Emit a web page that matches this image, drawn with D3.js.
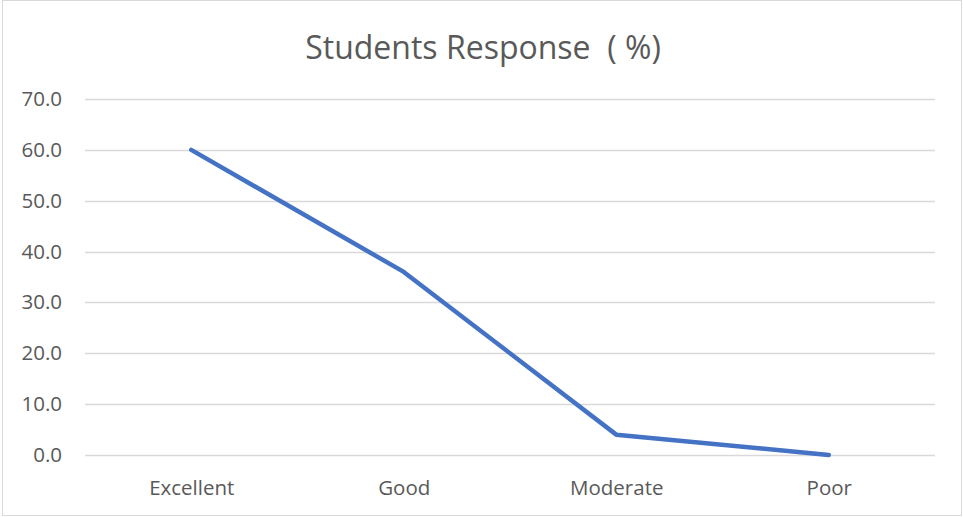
<!DOCTYPE html>
<html>
<head>
<meta charset="utf-8">
<script src="https://cdn.jsdelivr.net/npm/d3@7"></script>
<style>
  body { margin: 0; background: #fff; }
  text { font-family: "Open Sans", Lato, sans-serif; fill: #595959; }
</style>
</head>
<body>
<svg id="chart" width="963" height="517"></svg>
<script>
const categories = ["Excellent", "Good", "Moderate", "Poor"];
const responses = [60, 36, 4, 0];
const yTicks = [0, 10, 20, 30, 40, 50, 60, 70];
const chartTitle = "Students Response  ( %)";

const W = 963, H = 517;
const margin = {left: 85, right: 28, top: 99, bottom: 62};
const fontFam = "'Open Sans', Lato, sans-serif";

const svg = d3.select("#chart");

// outer frame
svg.append("rect")
  .attr("x", 2.5).attr("y", 0.5)
  .attr("width", W - 4).attr("height", H - 2)
  .attr("fill", "#fff")
  .attr("stroke", "#d9d9d9")
  .attr("stroke-width", 1);

let x = d3.scalePoint()
  .domain(categories)
  .range([margin.left, W - margin.right])
  .padding(0.5);

let y = d3.scaleLinear()
  .domain([0, 70])
  .range([H - margin.bottom, margin.top]);

// gridlines
svg.append("g")
  .selectAll("line")
  .data(yTicks)
  .enter().append("line")
  .attr("x1", margin.left)
  .attr("x2", W - margin.right)
  .attr("y1", d => Math.round(y(d)) + 0.5)
  .attr("y2", d => Math.round(y(d)) + 0.5)
  .attr("stroke", "#d9d9d9")
  .attr("stroke-width", 1.3);

// y labels
let yAxis = svg.append("g")
  .attr("transform", `translate(${margin.left - 23},0)`)
  .call(d3.axisLeft(y).tickValues(yTicks).tickFormat(d3.format(".1f")).tickSize(0).tickPadding(0));
yAxis.select(".domain").remove();
yAxis.selectAll("text")
  .attr("font-size", "20.5px")
  .style("font-family", fontFam)
  .attr("fill", "#595959");

// x labels
let xAxis = svg.append("g")
  .attr("transform", `translate(0,${H - margin.bottom + 25})`)
  .call(d3.axisBottom(x).tickSize(0).tickPadding(0));
xAxis.select(".domain").remove();
xAxis.selectAll("text")
  .attr("font-size", "20.5px")
  .style("font-family", fontFam)
  .attr("fill", "#595959");

// line
let line = d3.line()
  .x((d, i) => x(categories[i]))
  .y(d => y(d));

svg.append("path")
  .datum(responses)
  .attr("d", line)
  .attr("fill", "none")
  .attr("stroke", "#4472C4")
  .attr("stroke-width", 4.5)
  .attr("stroke-linejoin", "round")
  .attr("stroke-linecap", "round");

// title
svg.append("text")
  .attr("x", (margin.left + W - margin.right) / 2 - 27)
  .attr("y", 59)
  .attr("text-anchor", "middle")
  .attr("font-size", "32px")
  .style("white-space", "pre")
  .text(chartTitle);
</script>
</body>
</html>
